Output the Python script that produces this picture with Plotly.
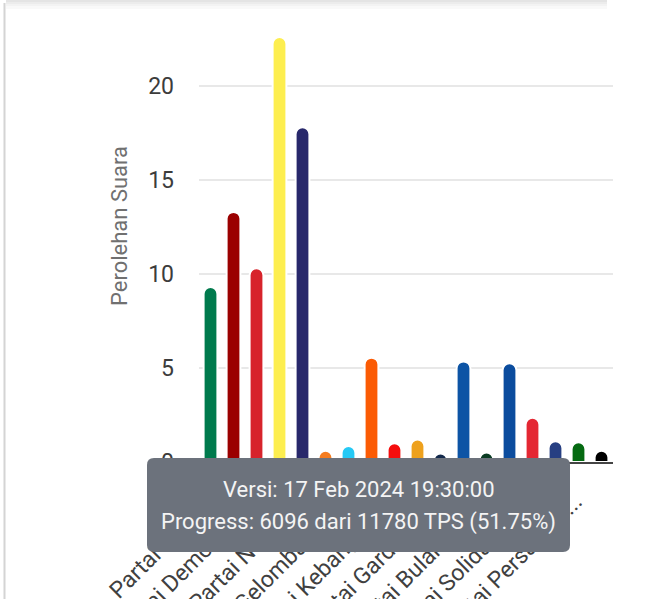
import plotly.graph_objects as go

# ---------------- data ----------------
parties = [
    "Partai Kebangkitan Bangsa", "Partai Gerakan Indonesia Raya",
    "Partai Demokrasi Indonesia Perjuangan", "Partai Golongan Karya",
    "Partai NasDem", "Partai Buruh", "Partai Gelombang Rakyat Indonesia",
    "Partai Keadilan Sejahtera", "Partai Kebangkitan Nusantara",
    "Partai Hati Nurani Rakyat", "Partai Garda Perubahan Indonesia",
    "Partai Amanat Nasional", "Partai Bulan Bintang", "Partai Demokrat",
    "Partai Solidaritas Indonesia", "Partai Persatuan Indonesia",
    "Partai Persatuan Pembangunan", "Partai Ummat",
]
votes = [9.3, 13.3, 10.3, 22.6, 17.8, 0.6, 0.85, 5.55, 1.0,
         1.2, 0.45, 5.35, 0.5, 5.25, 2.35, 1.1, 1.05, 0.6]
colors = ["#007a4d", "#9b0000", "#d7232b", "#fdee4f", "#28286b", "#f57c1f",
          "#25c9f5", "#fb5b04", "#f50d0d", "#eea11d", "#13294b", "#0d54a5",
          "#0a3b22", "#0b4c9e", "#e42733", "#273f82", "#056a12", "#000000"]
tick_parties = parties[0::2]
tick_labels = ["Partai Keba...", "Partai Demokrasi...", "Partai NasDem",
               "Partai Gelombang R...", "Partai Kebangkita...", "Partai Garda Per...",
               "Partai Bulan Bint...", "Partai Solidaritas...", "Partai Persatuan..."]
y_ticks = [0, 5, 10, 15, 20]
y_title = "Perolehan Suara"
tooltip_lines = ["Versi: 17 Feb 2024 19:30:00",
                 "Progress: 6096 dari 11780 TPS (51.75%)"]

# ---------------- layout geometry ----------------
W, H = 653, 599
ML, MR, MT, MB = 199, 40, 37, 137
PW, PH = W - ML - MR, H - MT - MB
FONT = "Roboto"


def px(x):
    return (x - ML) / PW


def py(y):
    return 1 - (y - MT) / PH


def rounded_rect(x0, y0, x1, y1, r):
    rx, ry = r / PW, r / PH
    X0, X1, Y0, Y1 = px(x0), px(x1), py(y0), py(y1)  # Y0 top, Y1 bottom
    return (f"M {X0+rx},{Y0} L {X1-rx},{Y0} Q {X1},{Y0} {X1},{Y0-ry} "
            f"L {X1},{Y1+ry} Q {X1},{Y1} {X1-rx},{Y1} L {X0+rx},{Y1} "
            f"Q {X0},{Y1} {X0},{Y1+ry} L {X0},{Y0-ry} Q {X0},{Y0} {X0+rx},{Y0} Z")


fig = go.Figure(go.Bar(
    x=parties, y=votes, width=0.6,
    marker=dict(color=colors, line=dict(color="white", width=2), cornerradius="50%"),
    hoverinfo="skip",
))

shapes = []
# top card shadow
for (ya, yb, c) in [(0, 2, "#e4e4e4"), (2, 4, "#ececec"), (4, 6, "#f3f3f3"), (6, 9, "#f9f9f9")]:
    shapes.append(dict(type="rect", xref="paper", yref="paper", layer="above",
                       x0=px(6), x1=px(607), y0=py(yb), y1=py(ya),
                       line=dict(width=0), fillcolor=c))
# left border
shapes.append(dict(type="line", xref="paper", yref="paper", layer="above",
                   x0=px(4.5), x1=px(4.5), y0=py(3), y1=py(H),
                   line=dict(color="#d4d4d4", width=2)))
# tooltip box
shapes.append(dict(type="path", xref="paper", yref="paper", layer="above",
                   path=rounded_rect(147, 458, 570, 552, 7),
                   fillcolor="#6c727c", line=dict(width=0)))

annotations = [
    dict(text=y_title, xref="paper", yref="paper", x=px(119), y=py(226),
         textangle=-90, showarrow=False, xanchor="center", yanchor="middle",
         font=dict(family=FONT, size=22, color="#707070")),
    dict(text=tooltip_lines[0], xref="paper", yref="paper", x=px(358.5), y=py(489),
         showarrow=False, xanchor="center", yanchor="middle",
         font=dict(family=FONT, size=22, color="#f4f4f4")),
    dict(text=tooltip_lines[1], xref="paper", yref="paper", x=px(358.5), y=py(522),
         showarrow=False, xanchor="center", yanchor="middle",
         font=dict(family=FONT, size=22, color="#f4f4f4")),
]

fig.update_layout(
    width=W, height=H,
    margin=dict(l=ML, r=MR, t=MT, b=MB, pad=0, autoexpand=False),
    paper_bgcolor="white", plot_bgcolor="white",
    showlegend=False, bargap=0.4,
    font=dict(family=FONT, size=22, color="#3c3c3c"),
    shapes=shapes, annotations=annotations,
    xaxis=dict(
        type="category", tickmode="array", tickvals=tick_parties, ticktext=tick_labels,
        tickangle=-45, tickfont=dict(family=FONT, size=23, color="#404040"),
        showgrid=False, zeroline=False, showline=True, linecolor="#444444", linewidth=2,
        ticks="", automargin=False, ticklabelstandoff=15, ticklabelshift=-3,
    ),
    yaxis=dict(
        range=[0, 22.6], tickmode="array", tickvals=y_ticks,
        tickfont=dict(family=FONT, size=23, color="#3c3c3c"),
        showgrid=True, gridcolor="#e8e8e8", gridwidth=2, zeroline=False,
        showline=False, ticks="", automargin=False, ticklabelstandoff=24,
    ),
)

fig.write_html("out.html")
